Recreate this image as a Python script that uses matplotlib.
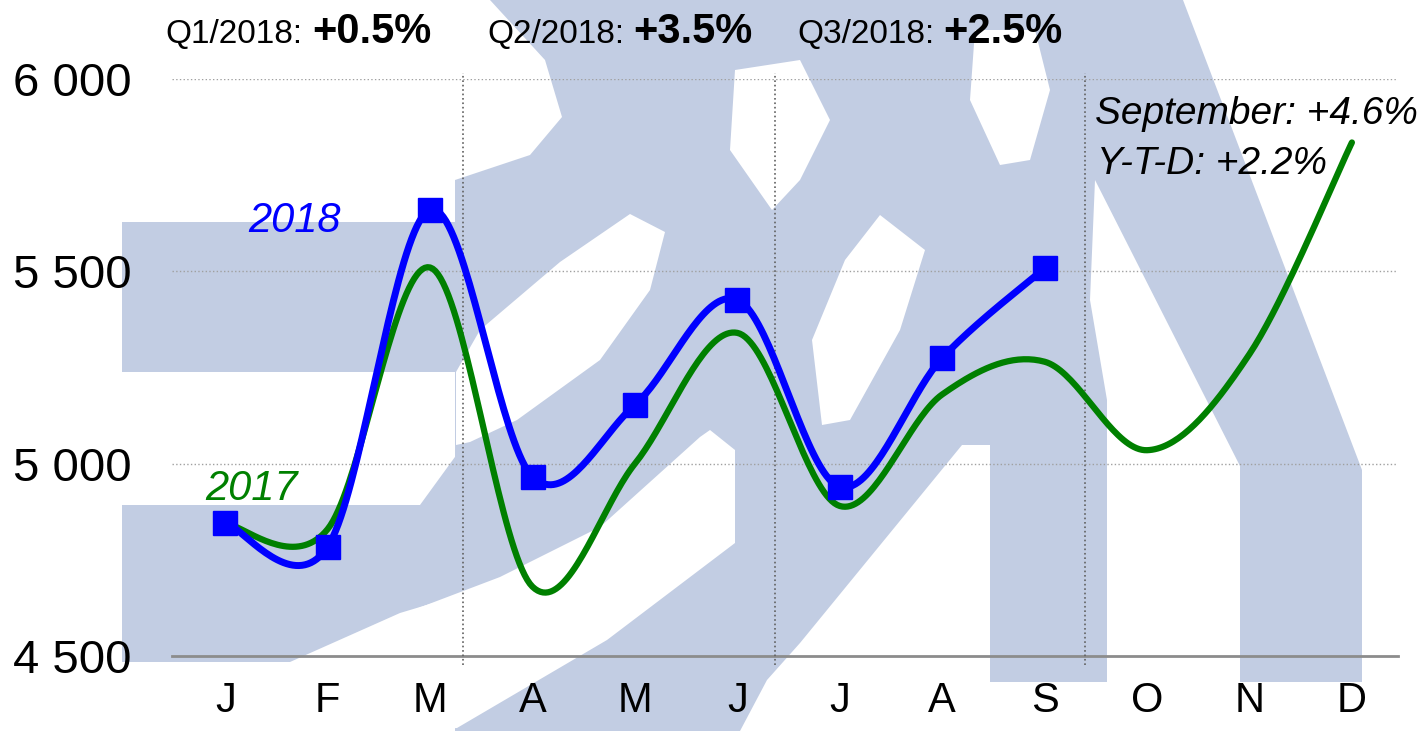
import matplotlib
matplotlib.use('Agg')
import matplotlib.pyplot as plt
from matplotlib.patches import Polygon
import numpy as np

months = ['J', 'F', 'M', 'A', 'M', 'J', 'J', 'A', 'S', 'O', 'N', 'D']
sales_2017 = [4845, 4830, 5510, 4680, 5000, 5340, 4890, 5180, 5265, 5035, 5285, 5835]
sales_2018 = [4847, 4784, 5660, 4966, 5153, 5426, 4940, 5275, 5508]
y_ticks = [4500, 5000, 5500, 6000]
y_labels = ['4 500', '5 000', '5 500', '6 000']
quarter_text = [('Q1/2018:', '+0.5%'), ('Q2/2018:', '+3.5%'), ('Q3/2018:', '+2.5%')]
quarter_ends = [2.32, 5.37, 8.39]

W, H = 1425, 731
plt.rcParams['font.family'] = ['Liberation Sans', 'DejaVu Sans']


def smooth(y, n=40):
    # excel style smoothed line: bezier segments through every point
    pts = np.column_stack([np.arange(len(y)), np.array(y, dtype=float)])
    out = [pts[0]]
    t = np.linspace(0, 1, n)[1:, None]
    for i in range(len(pts) - 1):
        p0, p3 = pts[i], pts[i + 1]
        prev = pts[i - 1] if i > 0 else p0
        nxt = pts[i + 2] if i + 2 < len(pts) else p3
        p1 = p0 + (p3 - prev) / 6.0
        p2 = p3 - (nxt - p0) / 6.0
        seg = (1 - t)**3 * p0 + 3 * (1 - t)**2 * t * p1 + 3 * (1 - t) * t**2 * p2 + t**3 * p3
        out.extend(seg)
    out = np.array(out)
    return out[:, 0], out[:, 1]


def px(x, y):
    return x / W, 1 - y / H


fig = plt.figure(figsize=(W / 100, H / 100), dpi=100)

# watermark logo behind the chart (pixel coordinates)
bg = fig.add_axes([0, 0, 1, 1], zorder=0)
bg.set_xlim(0, W)
bg.set_ylim(H, 0)
bg.axis('off')
logo = '#c2cde3'
blue_shapes = [
    [(122, 222), (470, 222), (470, 372), (122, 372)],
    [(122, 505), (420, 505), (460, 450), (460, 595), (400, 613), (290, 662), (122, 662)],
    [(455, 0), (1183, 0), (1362, 470), (1362, 682), (1240, 682), (1240, 466),
     (1095, 180), (1090, 300), (1107, 400), (1107, 682), (990, 682), (990, 445),
     (962, 445), (800, 643), (767, 680), (740, 731), (455, 731), (455, 600)],
]
white_shapes = [
    [(455, 0), (490, 0), (545, 60), (562, 117), (530, 155), (455, 180)],
    [(735, 70), (800, 60), (830, 120), (800, 180), (772, 210), (730, 150)],
    [(975, 30), (1035, 30), (1050, 90), (1030, 160), (1000, 165), (970, 100)],
    [(880, 215), (925, 250), (900, 330), (850, 420), (822, 425), (812, 340), (845, 260)],
    [(456, 372), (480, 330), (560, 262), (630, 214), (665, 232), (650, 290),
     (600, 360), (517, 420), (470, 442), (456, 445)],
    [(710, 430), (735, 450), (735, 543), (607, 640), (457, 728), (400, 731),
     (400, 615), (500, 577), (600, 527), (700, 437)],
]
for s in blue_shapes:
    bg.add_patch(Polygon(s, closed=True, facecolor=logo, edgecolor='none'))
for s in white_shapes:
    bg.add_patch(Polygon(s, closed=True, facecolor='white', edgecolor='none'))

ax = fig.add_axes([172 / W, 1 - 656 / H, (1398 - 172) / W, (656 - 79) / H], zorder=1)
ax.patch.set_alpha(0)
ax.set_xlim(-0.52, 11.45)
ax.set_ylim(4500, 6000)
for sp in ax.spines.values():
    sp.set_visible(False)

for v in y_ticks[1:]:
    ax.axhline(v, color='#a0a0a0', lw=1, ls=':', zorder=1)
ax.axhline(4500, color='#8c8c8c', lw=2, zorder=1, clip_on=False)
for q in quarter_ends:
    ax.plot([q, q], [4477, 6016], color='#606060', lw=1.2, ls=':', zorder=1, clip_on=False)

sx, sy = smooth(sales_2017)
ax.plot(sx, sy, color='#008000', lw=4.5, zorder=3, clip_on=False, solid_capstyle='round')
bx, by = smooth(sales_2018)
ax.plot(bx, by, color='#0000ff', lw=5, zorder=4, clip_on=False)
ax.plot(range(len(sales_2018)), sales_2018, ls='none', marker='s', ms=17,
        color='#0000ff', zorder=5, clip_on=False)

ax.set_yticks(y_ticks)
ax.set_yticklabels(y_labels, fontsize=34)
ax.set_xticks(range(12))
ax.set_xticklabels(months, fontsize=30)
ax.tick_params(axis='y', length=0, pad=29)
ax.tick_params(axis='x', length=0, pad=18)

# quarter results above the chart
q_pos = [(165, 312), (487, 633), (797, 943)]
for (lbl, val), (x1, x2) in zip(quarter_text, q_pos):
    fig.text(*px(x1, 43), lbl, fontsize=24, va='baseline', ha='left')
    fig.text(*px(x2, 43), val, fontsize=30, fontweight='bold', va='baseline', ha='left')

fig.text(*px(1095, 124), 'September: +4.6%', fontsize=28, style='italic', va='baseline', ha='left')
fig.text(*px(1097, 174), 'Y-T-D: +2.2%', fontsize=28, style='italic', va='baseline', ha='left')
fig.text(*px(248, 232), '2018', fontsize=30, style='italic', color='#0000ff', va='baseline', ha='left')
fig.text(*px(205, 500), '2017', fontsize=30, style='italic', color='#008000', va='baseline', ha='left')

fig.savefig('out.png', dpi=100, facecolor='white')
